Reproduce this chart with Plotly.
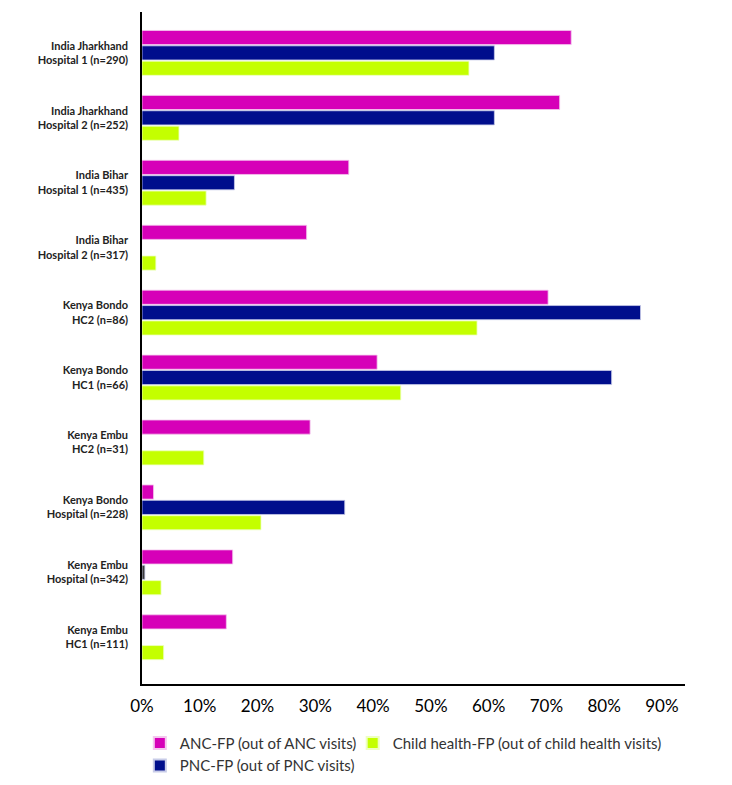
import plotly.graph_objects as go

categories = [
    "India Jharkhand<br>Hospital 1 (n=290)",
    "India Jharkhand<br>Hospital 2 (n=252)",
    "India Bihar<br>Hospital 1 (n=435)",
    "India Bihar<br>Hospital 2 (n=317)",
    "Kenya Bondo<br>HC2 (n=86)",
    "Kenya Bondo<br>HC1 (n=66)",
    "Kenya Embu<br>HC2 (n=31)",
    "Kenya Bondo<br>Hospital (n=228)",
    "Kenya Embu<br>Hospital (n=342)",
    "Kenya Embu<br>HC1 (n=111)",
]
anc_fp = [74.3, 72.3, 35.8, 28.5, 70.3, 40.7, 29.1, 2.0, 15.7, 14.6]
pnc_fp = [61.0, 61.0, 16.0, None, 86.3, 81.3, None, 35.1, 0.5, None]
child_fp = [56.6, 6.4, 11.1, 2.4, 58.0, 44.8, 10.7, 20.6, 3.3, 3.75]
tick_vals = [0, 10, 20, 30, 40, 50, 60, 70, 80, 90]
tick_text = ["0%", "10%", "20%", "30%", "40%", "50%", "60%", "70%", "80%", "90%"]

MAG = "#D600B8"
NAVY = "#000E8C"
LIME = "#C4FF00"

pnc_colors = [NAVY] * len(categories)
pnc_colors[8] = "#3a3a3a"

fig = go.Figure()
fig.add_trace(go.Bar(y=categories, x=anc_fp, orientation="h", name="ANC-FP (out of ANC visits)",
                     marker=dict(color=MAG, line=dict(color="#f4c6ee", width=0.8)),
                     legend="legend", legendrank=1))
fig.add_trace(go.Bar(y=categories, x=pnc_fp, orientation="h", name="PNC-FP (out of PNC visits)",
                     marker=dict(color=pnc_colors, line=dict(color="#c8cce8", width=0.8)),
                     legend="legend", legendrank=2))
fig.add_trace(go.Bar(y=categories, x=child_fp, orientation="h", name="Child health-FP (out of child health visits)",
                     marker=dict(color=LIME, line=dict(color="#eeffc0", width=0.8)),
                     legend="legend2", legendrank=3))

legend_common = dict(orientation="v", yanchor="top", xanchor="left",
                     font=dict(size=15, color="#333"), itemsizing="constant",
                     traceorder="normal", bgcolor="rgba(0,0,0,0)", tracegroupgap=0)

fig.update_layout(
    width=724, height=777,
    margin=dict(l=134, r=47, t=4, b=100),
    paper_bgcolor="white", plot_bgcolor="white",
    barmode="group", bargap=0.29, bargroupgap=0.08,
    font=dict(family="Lato, 'Open Sans', sans-serif", color="#222"),
    showlegend=True,
    legend=dict(x=-0.004, y=-0.062, **legend_common),
    legend2=dict(x=0.388, y=-0.062, **legend_common),
)
fig.update_xaxes(range=[0, 94], tickvals=tick_vals, ticktext=tick_text,
                 showgrid=False, zeroline=False, showline=True, linecolor="black", linewidth=1.5,
                 ticks="", tickfont=dict(size=17, color="black"), ticklabelstandoff=6)
fig.update_yaxes(type="category", categoryorder="array", categoryarray=categories,
                 range=[9.72, -0.63], showgrid=False, zeroline=False,
                 showline=True, linecolor="black", linewidth=1.5, ticks="",
                 tickfont=dict(size=11, color="#222", weight="bold"), ticklabelstandoff=10)

fig.write_html("out.html")
